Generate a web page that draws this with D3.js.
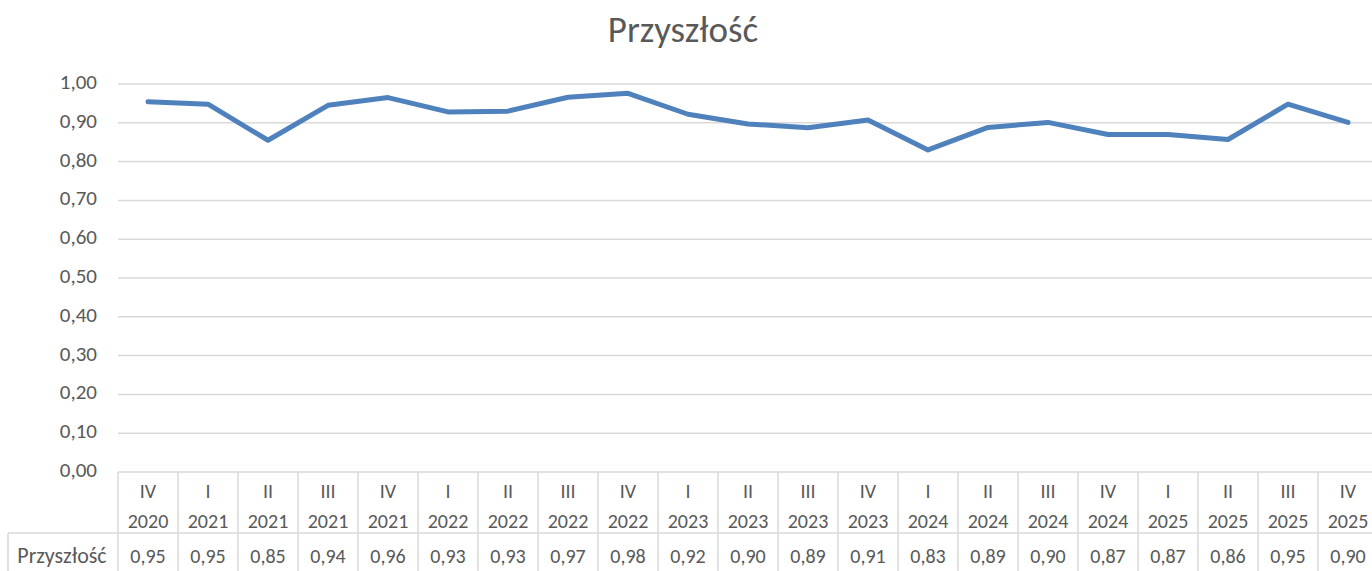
<!DOCTYPE html>
<html>
<head>
<meta charset="utf-8">
<script src="https://cdn.jsdelivr.net/npm/d3@7"></script>
<style>
  body { margin: 0; background: #fff; }
  svg { display: block; font-family: Carlito, Calibri, Lato, sans-serif; }
</style>
</head>
<body>
<svg></svg>
<script>
(() => {
    const width = 1372;
    const height = 571;

    const seriesName = "Przyszłość";
    const quarters = ["IV", "I", "II", "III", "IV", "I", "II", "III", "IV", "I", "II", "III", "IV", "I", "II", "III", "IV", "I", "II", "III", "IV"];
    const years = ["2020", "2021", "2021", "2021", "2021", "2022", "2022", "2022", "2022", "2023", "2023", "2023", "2023", "2024", "2024", "2024", "2024", "2025", "2025", "2025", "2025"];
    const values = [0.954, 0.948, 0.855, 0.945, 0.965, 0.928, 0.930, 0.966, 0.976, 0.922, 0.897, 0.887, 0.907, 0.830, 0.888, 0.901, 0.870, 0.870, 0.857, 0.948, 0.901];
    const yTicks = [0, 0.1, 0.2, 0.3, 0.4, 0.5, 0.6, 0.7, 0.8, 0.9, 1.0];

    const fmt = v => d3.format(".2f")(v).replace(".", ",");
    const cats = quarters.map((q, i) => q + " " + years[i]);

    const left = 118, colW = 60;
    const top = 84, bottom = 472;

    const x = d3.scaleBand()
        .domain(cats)
        .range([left, left + colW * cats.length]);

    const y = d3.scaleLinear()
        .domain([0, 1])
        .range([bottom, top]);

    const svg = d3.select("svg")
        .attr("width", width)
        .attr("height", height);

    const grey = "#d9d9d9";
    const textCol = "#595959";

    svg.append("text")
        .attr("x", 683)
        .attr("y", 42)
        .attr("text-anchor", "middle")
        .attr("fill", textCol)
        .attr("font-size", 37)
        .text(seriesName);

    // gridlines
    svg.append("g")
        .selectAll("line")
        .data(yTicks.slice(1))
        .enter()
        .append("line")
        .attr("x1", left)
        .attr("x2", width)
        .attr("y1", d => y(d))
        .attr("y2", d => y(d))
        .attr("stroke", grey)
        .attr("stroke-width", 1.5);

    // y axis labels
    svg.append("g")
        .selectAll("text")
        .data(yTicks)
        .enter()
        .append("text")
        .attr("x", 97)
        .attr("y", d => y(d) + 5)
        .attr("text-anchor", "end")
        .attr("fill", textCol)
        .attr("font-size", 21)
        .text(fmt);

    // data table
    const table = svg.append("g").attr("stroke", grey).attr("stroke-width", 1.5);
    table.append("line").attr("x1", left).attr("x2", width).attr("y1", bottom).attr("y2", bottom);
    table.append("line").attr("x1", 8).attr("x2", width).attr("y1", 533).attr("y2", 533);
    table.append("line").attr("x1", 8).attr("x2", 8).attr("y1", 533).attr("y2", height);
    table.selectAll(".col")
        .data(cats)
        .enter()
        .append("line")
        .attr("class", "col")
        .attr("x1", d => x(d))
        .attr("x2", d => x(d))
        .attr("y1", bottom)
        .attr("y2", height);

    const cells = svg.append("g")
        .attr("fill", textCol)
        .attr("font-size", 20)
        .attr("text-anchor", "middle");

    cells.selectAll(".q")
        .data(cats)
        .enter()
        .append("text")
        .attr("x", d => x(d) + x.bandwidth() / 2)
        .attr("y", 498)
        .text((d, i) => quarters[i]);

    cells.selectAll(".yr")
        .data(cats)
        .enter()
        .append("text")
        .attr("x", d => x(d) + x.bandwidth() / 2)
        .attr("y", 528)
        .text((d, i) => years[i]);

    cells.selectAll(".v")
        .data(cats)
        .enter()
        .append("text")
        .attr("x", d => x(d) + x.bandwidth() / 2)
        .attr("y", 563)
        .text((d, i) => fmt(values[i]));

    cells.append("text")
        .attr("x", 62)
        .attr("y", 563)
        .attr("font-size", 22)
        .text(seriesName);

    // line
    const line = d3.line()
        .x((d, i) => x(cats[i]) + x.bandwidth() / 2)
        .y(d => y(d));

    svg.append("path")
        .datum(values)
        .attr("d", line)
        .attr("fill", "none")
        .attr("stroke", "#4f81bd")
        .attr("stroke-width", 5)
        .attr("stroke-linejoin", "round")
        .attr("stroke-linecap", "round");
})();
</script>
</body>
</html>
